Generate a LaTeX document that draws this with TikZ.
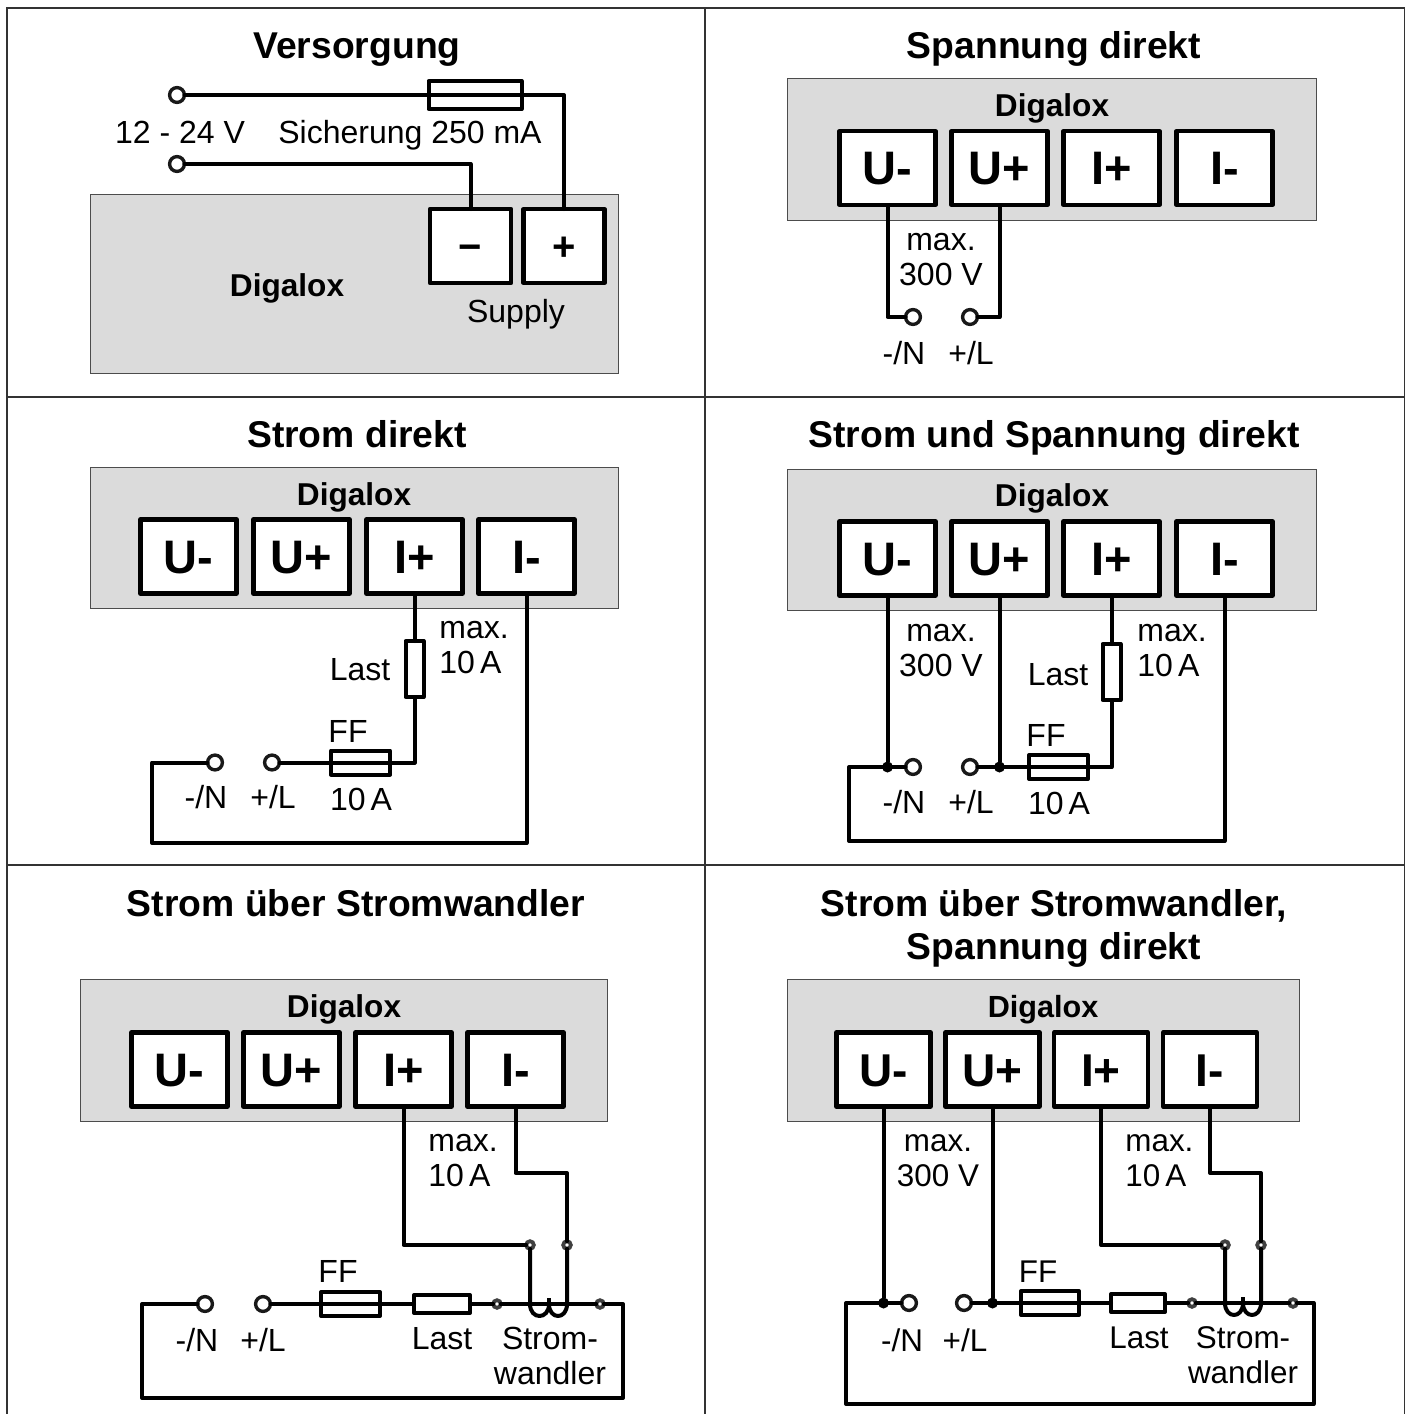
\documentclass[tikz,border=0pt]{standalone}
\usepackage{fontspec}
\setmainfont{Liberation Sans}
\tikzset{
  x=0.5pt,y=-0.5pt,
  frame/.style={draw=black!80,line width=0.75pt},
  unit/.style={draw=black!70,fill=black!14,line width=0.5pt,inner sep=0pt,outer sep=0pt},
  wire/.style={draw=black,line width=2pt,line join=round,line cap=round},
  terminal/.style={draw=black,fill=white,line width=2.1pt,line join=round,inner sep=0pt,outer sep=0pt,minimum width=48pt,minimum height=37pt,font=\fontsize{23.5}{26}\selectfont\bfseries,text height=16.8pt,text depth=0pt},
  supplyterm/.style={terminal,minimum width=40.5pt,font=\fontsize{20}{24}\selectfont\bfseries,text height=14.3pt},
  ring/.style={circle,draw=black!90,fill=white,line width=1.7pt,inner sep=0pt,outer sep=0pt,minimum size=7.4pt},
  tap/.style={circle,draw=black!75,fill=white,line width=1.9pt,inner sep=0pt,outer sep=0pt,minimum size=3.8pt},
  joint/.style={circle,fill=black,inner sep=0pt,outer sep=0pt,minimum size=5.5pt},
  fuse/.style={draw=black,line width=2pt,line join=round,inner sep=0pt,outer sep=0pt,path picture={\draw[line width=2pt] (path picture bounding box.west) -- (path picture bounding box.east);}},
  load/.style={draw=black,fill=white,line width=2pt,line join=round,inner sep=0pt,outer sep=0pt},
  title/.style={inner sep=0pt,align=center,font=\fontsize{18.65}{21.5}\selectfont\bfseries,text height=13.4pt,text depth=0pt},
  unitname/.style={inner sep=0pt,font=\fontsize{15.8}{19}\selectfont\bfseries,text height=11.3pt,text depth=0pt},
  lab/.style={inner sep=0pt,align=center,font=\fontsize{16}{17.5}\selectfont,text height=11.5pt,text depth=0pt},
  labl/.style={lab,align=left,anchor=west},
}
\newcommand{\fourterminals}[7]{% prefix, y, x1..x4, width
  \node[terminal,minimum width=#7] (#1um) at (#3,#2) {U-};
  \node[terminal,minimum width=#7] (#1up) at (#4,#2) {U+};
  \node[terminal,minimum width=#7] (#1ip) at (#5,#2) {I+};
  \node[terminal,minimum width=#7] (#1im) at (#6,#2) {I-};
}
\newcommand{\tenamp}{10\kern-.12em\ A}
\begin{document}
\begin{tikzpicture}
\useasboundingbox (0,0) rectangle (1410,1414);
% frame
\coordinate (ftl) at (7,8);
\coordinate (ftr) at (1404.5,8);
\coordinate (fbl) at (7,1414);
\coordinate (fbr) at (1404.5,1414);
\draw[frame] (fbl) -- (ftl) -- (ftr) -- (fbr);
\coordinate (fm1) at (705,8); \coordinate (fm2) at (705,1414);
\draw[frame] (fm1) -- (fm2);
\coordinate (fa) at (7,397); \coordinate (fb) at (1404.5,397);
\draw[frame] (fa) -- (fb);
\coordinate (fc) at (7,865); \coordinate (fd) at (1404.5,865);
\draw[frame] (fc) -- (fd);

% ---------- Versorgung
\node[title] (t1) at (357,45) {Versorgung};
\node[unit,minimum width=264pt,minimum height=89.5pt] (u1) at (354,284) {};
\node[unitname] (n1) at (287,285) {Digalox};
\node[supplyterm] (a1m) at (470.5,246) {−};
\node[supplyterm] (a1p) at (564,246) {+};
\node[lab] (s1) at (516,311) {Supply};
\node[ring] (a1c1) at (177,95) {};
\node[ring] (a1c2) at (177,164) {};
\node[fuse,minimum width=46.5pt,minimum height=14pt] (a1f) at (475,95) {};
\node[lab] (a1v) at (180,132) {12 - 24 V};
\node[lab] (a1s) at (410,132) {Sicherung 250 mA};
\draw[wire] (a1c1.east) -- (a1f.west);
\draw[wire] (a1f.east) -| (a1p.north);
\draw[wire] (a1c2.east) -| (a1m.north);

% ---------- Spannung direkt
\node[title] (t2) at (1054,45) {Spannung direkt};
\node[unit,minimum width=264.5pt,minimum height=71pt] (u2) at (1051.5,149) {};
\node[unitname] (n2) at (1052,105) {Digalox};
\fourterminals{b}{168}{887.5}{999.5}{1111.5}{1224.5}{48pt}
\node[ring] (bc1) at (913,317) {};
\node[ring] (bc2) at (970,317) {};
\node[lab] (bl) at (941,274) {max.\\300 V};
\node[lab] (bn) at (904,353) {-/N};
\node[lab] (bp) at (971,353) {+/L};
\draw[wire] (bum.south) |- (bc1.west);
\draw[wire] (bup.south) |- (bc2.east);

% ---------- Strom direkt
\node[title] (t3) at (357,434) {Strom direkt};
\node[unit,minimum width=264pt,minimum height=70.5pt] (u3) at (354,537.5) {};
\node[unitname] (n3) at (354,494) {Digalox};
\fourterminals{c}{556.5}{188.5}{301.5}{414.5}{526.5}{48pt}
\node[ring] (cc1) at (215,762.5) {};
\node[ring] (cc2) at (272,762.5) {};
\node[load,minimum width=9pt,minimum height=28pt] (cl) at (414.5,669) {};
\node[fuse,minimum width=29.5pt,minimum height=12pt] (cf) at (360.5,762.5) {};
\node[labl] (cm) at (439,662) {max.\\\tenamp};
\node[lab] (cL) at (360,669) {Last};
\node[lab] (cF) at (348,731) {FF};
\node[lab] (cA) at (361,799) {\tenamp};
\node[lab] (cn) at (206,797) {-/N};
\node[lab] (cp) at (273,797) {+/L};
\coordinate (ck) at (152,843);
\draw[wire] (cip.south) -- (cl.north);
\draw[wire] (cl.south) |- (cf.east);
\draw[wire] (cf.west) -- (cc2.east);
\draw[wire] (cc1.west) -| (ck) -| (cim.south);

% ---------- Strom und Spannung direkt
\node[title] (t4) at (1054,434) {Strom und Spannung direkt};
\node[unit,minimum width=264.5pt,minimum height=70.5pt] (u4) at (1051.5,539.5) {};
\node[unitname] (n4) at (1052,495) {Digalox};
\fourterminals{d}{558.5}{887.5}{999.5}{1111.5}{1224.5}{48pt}
\node[ring] (dc1) at (913,767) {};
\node[ring] (dc2) at (970,767) {};
\node[joint] (dj1) at (887.5,767) {};
\node[joint] (dj2) at (999.5,767) {};
\node[load,minimum width=9pt,minimum height=28pt] (dl) at (1111.5,672) {};
\node[fuse,minimum width=29.5pt,minimum height=12pt] (df) at (1058.5,767) {};
\node[lab] (dm) at (941,665) {max.\\300 V};
\node[labl] (dm2) at (1137,665) {max.\\\tenamp};
\node[lab] (dL) at (1058,674) {Last};
\node[lab] (dF) at (1046,735) {FF};
\node[lab] (dA) at (1059,803) {\tenamp};
\node[lab] (dn) at (904,802) {-/N};
\node[lab] (dp) at (971,802) {+/L};
\coordinate (dk) at (849,841);
\draw[wire] (dum.south) -- (dj1);
\draw[wire] (dup.south) -- (dj2);
\draw[wire] (dip.south) -- (dl.north);
\draw[wire] (dl.south) |- (df.east);
\draw[wire] (df.west) -- (dc2.east);
\draw[wire] (dc1.west) -| (dk) -| (dim.south);

% ---------- Strom ueber Stromwandler
\node[title] (t5) at (356,903) {Strom über Stromwandler};
\node[unit,minimum width=263.5pt,minimum height=71pt] (u5) at (344,1050) {};
\node[unitname] (n5) at (344,1006) {Digalox};
\fourterminals{e}{1069.5}{179.5}{291.5}{403.5}{515.5}{48pt}
\node[ring] (ec1) at (205,1304) {};
\node[ring] (ec2) at (263,1304) {};
\node[tap] (et1) at (530,1245) {};
\node[tap] (et2) at (567,1245) {};
\node[tap] (et3) at (497,1304) {};
\node[tap] (et4) at (600,1304) {};
\node[fuse,minimum width=29.5pt,minimum height=12pt] (ef) at (350.5,1304) {};
\node[load,minimum width=28pt,minimum height=9pt] (el) at (442,1304) {};
\node[labl] (em) at (428,1175) {max.\\\tenamp};
\node[lab] (eF) at (338,1271) {FF};
\node[lab] (eL) at (442,1338) {Last};
\node[lab] (eW) at (550,1373) {Strom-\\wandler};
\node[lab] (en) at (197,1340) {-/N};
\node[lab] (ep) at (263,1340) {+/L};
\coordinate (ek) at (142,1398);
\coordinate (er) at (623,1304);
\coordinate (ea) at (515.5,1173);
\coordinate (eb) at (530,1304);
\coordinate (ec) at (549,1304);
\coordinate (ed) at (567,1304);
\coordinate (eu) at (549,1298);
\draw[wire] (eip.south) |- (et1.west);
\draw[wire] (eim.south) -- (ea) -| (et2.north);
\draw[wire] (et1.south) -- (eb) .. controls +(0,16) and +(0,16) .. (ec) .. controls +(0,16) and +(0,16) .. (ed) -- (et2.south);
\draw[wire,line cap=butt] (eu) -- (ec);
\draw[wire] (ec2.east) -- (ef.west);
\draw[wire] (ef.east) -- (el.west);
\draw[wire] (el.east) -- (et3.west);
\draw[wire] (et3.east) -- (et4.west);
\draw[wire] (ec1.west) -| (ek) -| (er) -- (et4.east);

% ---------- Strom ueber Stromwandler, Spannung direkt
\begin{scope}[
  lab/.append style={font=\fontsize{15.7}{17.5}\selectfont},
  unitname/.append style={font=\fontsize{15.3}{19}\selectfont\bfseries},
  terminal/.append style={font=\fontsize{23}{26}\selectfont\bfseries}]
\node[title] (t6) at (1054,946) {Strom über Stromwandler,\\Spannung direkt};
\node[unit,minimum width=256pt,minimum height=71pt] (u6) at (1043,1050) {};
\node[unitname] (n6) at (1043,1006) {Digalox};
\fourterminals{f}{1069.5}{883.5}{992.5}{1101}{1210}{47pt}
\node[ring] (fc1) at (909,1303) {};
\node[ring] (fc2) at (964,1303) {};
\node[joint] (fj1) at (883.5,1303) {};
\node[joint] (fj2) at (992.5,1303) {};
\node[tap] (ft1) at (1225,1245) {};
\node[tap] (ft2) at (1261,1245) {};
\node[tap] (ft3) at (1192,1303) {};
\node[tap] (ft4) at (1293,1303) {};
\node[fuse,minimum width=29pt,minimum height=12pt] (ff) at (1050,1303) {};
\node[load,minimum width=27pt,minimum height=9pt] (fl) at (1138,1303) {};
\node[lab] (fm) at (938,1175) {max.\\300 V};
\node[labl] (fm2) at (1125,1175) {max.\\\tenamp};
\node[lab] (fF) at (1038,1271) {FF};
\node[lab] (fL) at (1139,1337) {Last};
\node[lab] (fW) at (1243,1372) {Strom-\\wandler};
\node[lab] (fn) at (902,1340) {-/N};
\node[lab] (fp) at (965,1340) {+/L};
\coordinate (fk) at (846,1404);
\coordinate (fr) at (1313.5,1303);
\coordinate (fa2) at (1210,1173);
\coordinate (fb2) at (1225,1303);
\coordinate (fc3) at (1243,1303);
\coordinate (fd2) at (1261,1303);
\coordinate (fu) at (1243,1297);
\draw[wire] (fum.south) -- (fj1);
\draw[wire] (fup.south) -- (fj2);
\draw[wire] (fip.south) |- (ft1.west);
\draw[wire] (fim.south) -- (fa2) -| (ft2.north);
\draw[wire] (ft1.south) -- (fb2) .. controls +(0,16) and +(0,16) .. (fc3) .. controls +(0,16) and +(0,16) .. (fd2) -- (ft2.south);
\draw[wire,line cap=butt] (fu) -- (fc3);
\draw[wire] (fc2.east) -- (ff.west);
\draw[wire] (ff.east) -- (fl.west);
\draw[wire] (fl.east) -- (ft3.west);
\draw[wire] (ft3.east) -- (ft4.west);
\draw[wire] (fc1.west) -| (fk) -| (fr) -- (ft4.east);
\end{scope}
\end{tikzpicture}
\end{document}
